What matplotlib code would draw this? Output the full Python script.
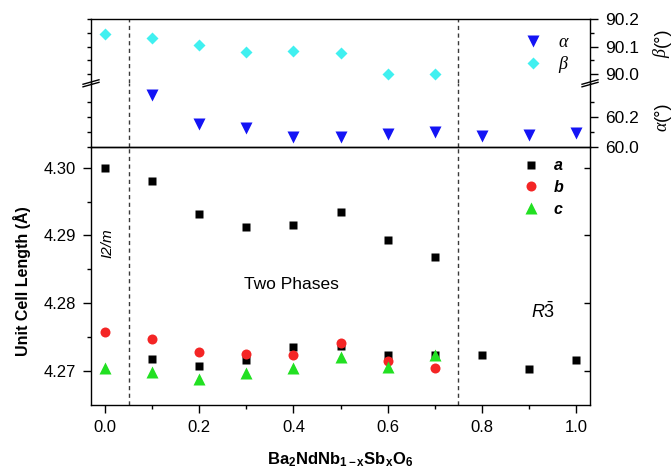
import matplotlib
matplotlib.use('Agg')
import matplotlib.pyplot as plt
from matplotlib.ticker import MultipleLocator, FixedLocator, FormatStrFormatter
from matplotlib.font_manager import FontProperties

plt.rcParams['font.family'] = ['Liberation Sans', 'DejaVu Sans']
plt.rcParams['mathtext.fontset'] = 'custom'
plt.rcParams['mathtext.rm'] = 'Liberation Sans'
plt.rcParams['mathtext.it'] = 'Liberation Sans:italic'
plt.rcParams['mathtext.bf'] = 'Liberation Sans:bold'

# ---------------- data ----------------
x_a_main = [0.0, 0.1, 0.2, 0.3, 0.4, 0.5, 0.6, 0.7]
a_main = [4.3000, 4.2980, 4.2932, 4.2912, 4.2916, 4.2934, 4.2894, 4.2868]
x_a_rhomb = [0.1, 0.2, 0.3, 0.4, 0.5, 0.6, 0.7, 0.8, 0.9, 1.0]
a_rhomb = [4.2718, 4.2707, 4.2717, 4.2736, 4.2737, 4.2723, 4.2723, 4.2723, 4.2703, 4.2716]
x_bc = [0.0, 0.1, 0.2, 0.3, 0.4, 0.5, 0.6, 0.7]
b_vals = [4.2757, 4.2748, 4.2728, 4.2725, 4.2724, 4.2741, 4.2715, 4.2705]
c_vals = [4.2704, 4.2699, 4.2689, 4.2697, 4.2704, 4.2721, 4.2706, 4.2723]

x_alpha = [0.1, 0.2, 0.3, 0.4, 0.5, 0.6, 0.7, 0.8, 0.9, 1.0]
alpha_vals = [60.343, 60.154, 60.128, 60.065, 60.069, 60.084, 60.101, 60.074, 60.080, 60.095]
x_beta = [0.0, 0.1, 0.2, 0.3, 0.4, 0.5, 0.6, 0.7]
beta_vals = [90.145, 90.133, 90.106, 90.079, 90.083, 90.076, 90.000, 90.000]

phase_bounds = [0.05, 0.75]

# ---------------- layout ----------------
FW, FH = 672, 469
fig = plt.figure(figsize=(FW / 100, FH / 100), dpi=100)

def fy(p):
    return 1 - p / FH

L, Wd = 91 / FW, 499 / FW
ax = fig.add_axes([L, fy(405), Wd, fy(147.3) - fy(405)])
axa = fig.add_axes([L, fy(147.3), Wd, fy(83.3) - fy(147.3)])
axb = fig.add_axes([L, fy(83.3), Wd, fy(19.3) - fy(83.3)])

for a_ in (ax, axa, axb):
    a_.set_xlim(-0.03, 1.03)
    for s in a_.spines.values():
        s.set_linewidth(1.0)
    for xv in phase_bounds:
        a_.axvline(xv, color='#3a3a3a', ls=(0, (3, 2.5)), lw=1.0, zorder=1)

# ---- bottom panel ----
col_a, col_b, col_c = 'black', '#f42525', '#22e022'
h_a, = ax.plot(x_a_main, a_main, 's', color=col_a, ms=6.3, mec='none', zorder=3)
ax.plot(x_a_rhomb, a_rhomb, 's', color=col_a, ms=6.3, mec='none', zorder=3)
h_b, = ax.plot(x_bc, b_vals, 'o', color=col_b, ms=7.2, mec='none', zorder=4)
h_c, = ax.plot(x_bc, c_vals, '^', color=col_c, ms=8.2, mec='none', zorder=5)

ax.set_ylim(4.265, 4.303)
ax.yaxis.set_major_locator(FixedLocator([4.27, 4.28, 4.29, 4.30]))
ax.yaxis.set_minor_locator(FixedLocator([4.275, 4.285, 4.295]))
ax.yaxis.set_major_formatter(FormatStrFormatter('%.2f'))
ax.xaxis.set_major_locator(MultipleLocator(0.2))
ax.xaxis.set_minor_locator(MultipleLocator(0.1))
ax.xaxis.set_major_formatter(FormatStrFormatter('%.1f'))
ax.tick_params(axis='both', which='major', direction='out', length=6, width=1.0,
               labelsize=12, pad=5)
ax.tick_params(axis='both', which='minor', direction='out', length=3, width=1.0)
ax.tick_params(axis='y', which='both', right=True, labelright=False)
ax.tick_params(axis='x', which='both', top=False)
# inward ticks on the right spine
for t in ax.yaxis.get_major_ticks():
    t.tick2line.set_marker(matplotlib.lines.TICKLEFT)
    t.tick2line.set_markersize(4)
for t in ax.yaxis.get_minor_ticks():
    t.tick2line.set_visible(False)

ax.text(0.004, 4.2889, 'I2/m', rotation=90, style='italic', ha='center', va='center', fontsize=11)
ax.text(0.395, 4.2828, 'Two Phases', ha='center', va='center', fontsize=12.5)
ax.text(0.93, 4.2788, r'$R\bar{3}$', ha='center', va='center', fontsize=13)

leg1 = ax.legend([h_a, h_b, h_c], ['a', 'b', 'c'], loc='upper left',
                 bbox_to_anchor=(0.866, 0.957), frameon=False,
                 prop=FontProperties(family='Liberation Sans', weight='bold', style='italic', size=11.5),
                 handlelength=1.0, handletextpad=0.9, labelspacing=0.42,
                 borderpad=0, borderaxespad=0)

# ---- alpha panel ----
h_al, = axa.plot(x_alpha, alpha_vals, 'v', color='#1414f5', ms=9, mec='none', zorder=3)
axa.set_ylim(60.0, 60.42)
axa.spines['top'].set_visible(False)
axa.yaxis.set_major_locator(FixedLocator([60.0, 60.2]))
axa.yaxis.set_minor_locator(FixedLocator([60.1, 60.3]))
axa.yaxis.set_major_formatter(FormatStrFormatter('%.1f'))

# ---- beta panel ----
h_be, = axb.plot(x_beta, beta_vals, 'D', color='#40f0f0', ms=6.6, mec='none', zorder=3)
axb.set_ylim(89.966, 90.2)
axb.spines['bottom'].set_visible(False)
axb.yaxis.set_major_locator(FixedLocator([90.0, 90.1, 90.2]))
axb.yaxis.set_minor_locator(FixedLocator([90.05, 90.15]))
axb.yaxis.set_major_formatter(FormatStrFormatter('%.1f'))

for a_ in (axa, axb):
    a_.tick_params(axis='x', which='both', bottom=False, top=False, labelbottom=False)
    a_.tick_params(axis='y', which='both', left=True, right=True, labelleft=False,
                   labelright=True, direction='out', width=1.0)
    a_.tick_params(axis='y', which='major', length=6, labelsize=12.5, pad=5)
    a_.tick_params(axis='y', which='minor', length=3)
    for t in a_.yaxis.get_major_ticks() + a_.yaxis.get_minor_ticks():
        t.tick1line.set_markersize(3)
    a_.patch.set_alpha(0)

# break marks on the left and right spines
for xs in (0.0, 1.0):
    for dy in (-0.02, 0.02):
        axb.plot([xs - 0.016, xs + 0.016], [dy - 0.035, dy + 0.035], color='black', lw=1.0,
                 transform=axb.transAxes, clip_on=False, zorder=6)

leg2 = axb.legend([h_al, h_be], [r'α', r'β'], loc='upper left',
                  bbox_to_anchor=(0.868, 0.77), frameon=False,
                  prop=FontProperties(family='Liberation Serif', style='italic', size=13),
                  handlelength=1.0, handletextpad=0.9, labelspacing=0.3,
                  borderpad=0, borderaxespad=0)

# ---- axis titles ----
fig.text(21.7 / FW, fy(281.5), 'Unit Cell Length (Å)', rotation=90, ha='center', va='center',
         fontsize=11.5, fontweight='bold')
fig.text(340.5 / FW, fy(464), r'$\mathbf{Ba_2NdNb_{1-x}Sb_xO_6}$', ha='center', va='baseline',
         fontsize=12)
fig.text(662 / FW, fy(53.5), 'β', rotation=90, ha='center', va='center', fontsize=13,
         family='Liberation Serif', style='italic')
fig.text(662 / FW, fy(37.5), '(°)', rotation=90, ha='center', va='center', fontsize=13)
fig.text(662 / FW, fy(126), 'α', rotation=90, ha='center', va='center', fontsize=13,
         family='Liberation Serif', style='italic')
fig.text(662 / FW, fy(110.8), '(°)', rotation=90, ha='center', va='center', fontsize=13)

fig.savefig('out.png', dpi=100)
